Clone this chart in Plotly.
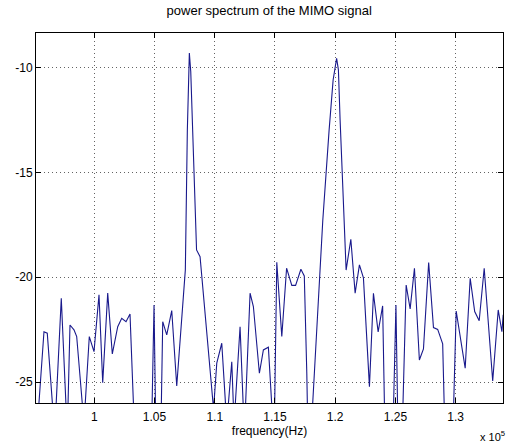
import plotly.graph_objects as go

# frequency (Hz) and power (dB)
freq = [95160, 95822, 96096, 96711, 97259, 97757, 97982, 98314, 98538, 99144,
        99585, 99834, 99975, 100390, 100698, 101113, 101495, 101944, 102276, 102633,
        102965, 103380, 104768, 104959, 105125, 105540, 105681, 106014, 106429, 106844,
        107558, 107725, 107891, 108007, 108132, 108240, 108364, 108489, 108780, 109901,
        110167, 110582, 110997, 111413, 111604, 112102, 112459, 112932, 113207, 113705,
        114037, 114452, 114926, 115150, 115566, 115964, 116396, 116712, 117152, 117434,
        117642, 117750, 118057, 118748, 118971, 119495, 119827, 120117, 120266, 120407,
        120765, 120906, 121297, 121654, 122011, 122343, 122842, 123174, 123564, 123938,
        124146, 124810, 125042, 125200, 125582, 125890, 126222, 126579, 126987, 127327,
        127759, 128158, 128507, 128922, 129129, 129769, 130043, 130790, 131206, 131580,
        131953, 132369, 133075, 133532, 133839, 133947]
power = [-28.0, -22.60, -22.67, -27.5, -21.0, -27.5, -22.28, -22.51, -22.83, -27.0,
         -22.83, -23.31, -23.55, -20.84, -25.03, -20.76, -23.66, -22.36, -21.96, -22.12,
         -21.75, -28.0, -27.0, -21.32, -28.0, -27.0, -22.12, -22.75, -21.59, -25.19,
         -19.65, -12.97, -9.31, -10.19, -12.5, -15.0, -17.3, -18.7, -19.02, -26.3,
         -24.10, -23.15, -27.0, -24.03, -27.0, -22.36, -27.5, -20.76, -21.40, -24.58,
         -23.47, -23.34, -28.0, -19.29, -22.83, -19.57, -20.39, -20.39, -19.62, -19.94,
         -24.58, -28.0, -26.8, -19.18, -17.27, -12.97, -10.59, -9.56, -10.11, -12.50,
         -17.27, -19.66, -18.19, -20.76, -19.41, -20.03, -25.22, -20.77, -22.61, -21.37,
         -28.0, -27.0, -21.32, -27.0, -27.0, -20.37, -21.51, -19.57, -23.95, -23.42,
         -19.30, -22.40, -22.49, -23.18, -28.0, -27.5, -21.61, -24.34, -20.05, -21.64,
         -22.08, -19.57, -24.95, -21.56, -22.60, -21.79]

x_ticks = [100000, 105000, 110000, 115000, 120000, 125000, 130000]
x_labels = ["1", "1.05", "1.1", "1.15", "1.2", "1.25", "1.3"]
y_ticks = [-25, -20, -15, -10]
y_labels = ["-25", "-20", "-15", "-10"]

FONT = "Liberation Sans, Arial, sans-serif"

fig = go.Figure()
fig.add_trace(go.Scatter(x=freq, y=power, mode="lines",
                         line=dict(color="rgb(25,25,140)", width=1.1),
                         showlegend=False, hoverinfo="skip"))

axis_common = dict(showline=True, linecolor="black", linewidth=1, mirror="ticks",
                   ticks="inside", ticklen=5, tickcolor="black",
                   showgrid=True, gridcolor="rgba(60,60,60,0.8)", gridwidth=1,
                   griddash="1px,3px",
                   zeroline=False, tickfont=dict(family=FONT, size=12, color="black"))

fig.update_xaxes(range=[95160, 133930], tickvals=x_ticks, ticktext=x_labels,
                 ticklabelstandoff=3,
                 title=dict(text="frequency(Hz)", font=dict(family=FONT, size=12, color="black"),
                            standoff=2),
                 **axis_common)
fig.update_yaxes(range=[-26, -8.35], tickvals=y_ticks, ticktext=y_labels, **axis_common)

fig.add_annotation(x=1.0, y=0, xref="paper", yref="paper", xanchor="right", yanchor="bottom",
                   yshift=-42, xshift=4, showarrow=False,
                   text="x 10<sup>5</sup>", font=dict(family=FONT, size=11, color="black"))

fig.update_layout(
    width=506, height=446,
    margin=dict(l=36, r=3, t=33, b=43),
    paper_bgcolor="white", plot_bgcolor="white",
    title=dict(text="power spectrum of the MIMO signal", x=0.532, xanchor="center",
               y=0.986, yanchor="top",
               font=dict(family=FONT, size=13, color="black")),
)

fig.write_html("out.html")
